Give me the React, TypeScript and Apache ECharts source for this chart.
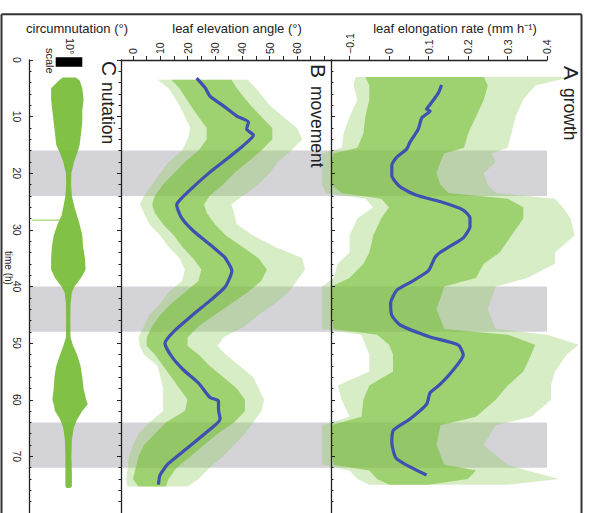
import React, { useEffect, useRef } from 'react';
import * as echarts from 'echarts';

// ---- data ----
const darkPeriods = [[16, 24], [40, 48], [64, 72]];
const timeLabels = [0, 10, 20, 30, 40, 50, 60, 70];
const elevationLabels = [0, 10, 20, 30, 40, 50, 60];
const elevationTicks = [0, 5, 10, 15, 20, 25, 30, 35, 40, 45, 50, 55, 60, 65, 70];
const elongationLabels = [-0.1, 0, 0.1, 0.2, 0.3, 0.4];
const elongationTicks = [-0.1, -0.05, 0, 0.05, 0.1, 0.15, 0.2, 0.25, 0.3, 0.35, 0.4];

// growth (A): [time, outerLow, coreLow, coreHigh, outerHigh]  (mm h-1)
const growthEnvelope = [
  [3.0, -0.085, -0.06, 0.24, 0.46],
  [4.5, -0.09, -0.05, 0.25, 0.37],
  [7, -0.08, -0.05, 0.24, 0.34],
  [10, -0.1, -0.06, 0.22, 0.32],
  [13, -0.115, -0.065, 0.2, 0.31],
  [15.5, -0.12, -0.08, 0.19, 0.3],
  [16.5, -0.17, -0.14, 0.14, 0.26],
  [18, -0.17, -0.147, 0.13, 0.27],
  [20, -0.17, -0.147, 0.12, 0.24],
  [22, -0.17, -0.147, 0.13, 0.25],
  [23.5, -0.16, -0.12, 0.15, 0.27],
  [24.5, -0.06, -0.02, 0.3, 0.42],
  [26, -0.04, 0.0, 0.34, 0.44],
  [28, -0.08, -0.02, 0.34, 0.46],
  [31, -0.1, -0.04, 0.31, 0.47],
  [34, -0.1, -0.05, 0.28, 0.42],
  [36, -0.13, -0.065, 0.24, 0.42],
  [38.5, -0.14, -0.1, 0.22, 0.35],
  [40, -0.17, -0.147, 0.14, 0.27],
  [44, -0.17, -0.147, 0.12, 0.25],
  [47.5, -0.17, -0.14, 0.14, 0.27],
  [48.5, -0.07, -0.03, 0.3, 0.4],
  [50.3, -0.06, 0.0, 0.37, 0.48],
  [52, -0.05, 0.01, 0.36, 0.45],
  [55, -0.05, 0.01, 0.34, 0.42],
  [57.5, -0.13, -0.05, 0.3, 0.41],
  [60, -0.12, -0.065, 0.27, 0.41],
  [63, -0.1, -0.07, 0.22, 0.36],
  [64.5, -0.17, -0.147, 0.13, 0.27],
  [68, -0.17, -0.147, 0.12, 0.24],
  [71.5, -0.17, -0.14, 0.14, 0.3],
  [72.5, -0.1, -0.05, 0.22, 0.35],
  [74, -0.08, -0.03, 0.2, 0.43],
  [75, -0.05, 0.0, 0.1, 0.3],
];
// growth mean: [rate, time]
const growthMean = [
  [0.133, 4.4], [0.125, 5.8], [0.104, 7.85], [0.095, 8.7], [0.104, 9.0], [0.083, 10.2],
  [0.074, 12.2], [0.053, 14.5], [0.045, 15.7], [0.019, 17.2], [0.007, 18.6], [0.007, 20.4],
  [0.028, 22.4], [0.07, 23.9], [0.129, 25.0], [0.188, 26.5], [0.205, 27.9], [0.205, 29.4],
  [0.188, 31.4], [0.154, 32.9], [0.129, 34.0], [0.116, 34.9], [0.1, 37.2], [0.053, 39.3],
  [0.019, 40.7], [0.004, 43.0], [0.007, 45.1], [0.028, 46.8], [0.104, 48.9], [0.175, 50.3],
  [0.188, 52.1], [0.163, 54.7], [0.129, 57.3], [0.104, 58.8], [0.095, 60.8], [0.053, 63.4],
  [0.011, 65.4], [0.007, 67.5], [0.019, 70.4], [0.095, 73.3],
];

// movement (B): [time, outerLow, coreLow, coreHigh, outerHigh]  (degrees)
const movementEnvelope = [
  [3.5, 9, 14, 36, 42],
  [5, 13, 17, 38, 45],
  [8, 17, 21, 43, 50],
  [10, 19, 24, 47, 55],
  [12, 21, 27, 51, 60],
  [14, 20, 27, 51, 62],
  [16, 18, 24, 47, 58],
  [18, 13, 19, 42, 53],
  [20, 10, 15, 37, 50],
  [22, 7, 11, 33, 46],
  [24, 4, 8, 28, 40],
  [25.5, 2.5, 7, 26, 36],
  [27, 4, 8, 27, 37],
  [29, 6, 11, 30, 38],
  [31, 10, 15, 34, 44],
  [33, 13, 18, 40, 52],
  [35, 17, 22, 46, 62],
  [37, 19, 25, 49, 63],
  [39, 18, 24, 47, 60],
  [41, 13, 19, 42, 57],
  [43, 10, 14, 36, 52],
  [45, 6, 10, 30, 46],
  [47, 4, 7, 24, 41],
  [49, 2, 5, 20, 33],
  [50.5, 2.5, 5, 20, 31],
  [52, 4, 8, 24, 34],
  [54, 9, 11, 28, 39],
  [56, 10, 14, 33, 44],
  [58, 11, 17, 38, 46],
  [60, 11, 20, 41, 48],
  [62, 11, 19, 41, 47],
  [64, 6, 12, 37, 44],
  [66, 2, 8, 31, 41],
  [68, 0, 4, 26, 37],
  [70, -1.5, 2, 21, 33],
  [72, -2, 1, 16, 28],
  [74, -2.5, 0, 13, 24],
  [75.3, -2, 2, 12, 20],
];
// movement mean: [angle, time]
const movementMean = [
  [23.3, 3.2], [26.4, 4.9], [28.2, 6.4], [33.1, 8.1], [38.0, 9.9], [42.3, 11.0],
  [41.6, 12.2], [44.1, 13.3], [40.4, 15.1], [34.3, 17.5], [28.2, 19.8], [22.1, 22.4],
  [17.2, 24.7], [16.0, 25.6], [17.8, 27.9], [22.1, 30.2], [28.2, 32.6], [33.1, 34.6],
  [33.7, 34.9], [36.2, 37.2], [33.7, 40.1], [28.2, 42.5], [20.9, 45.4], [14.8, 48.0],
  [11.7, 50.0], [14.2, 52.4], [18.4, 54.7], [23.9, 57.0], [28.2, 59.6], [31.3, 60.2],
  [31.3, 61.7], [31.9, 63.4], [27.0, 65.7], [19.7, 68.6], [12.9, 71.3], [9.9, 73.3],
  [9.3, 75.0],
];

// nutation (C): [time, low, high] (degrees around the trace centre)
const nutationEnvelope = [
  [3.1, -2, 3], [3.6, -3.5, 4.5], [5, -6.5, 5.5], [7, -6.5, 6], [9, -6, 5.5],
  [11, -5.5, 5.5], [13, -5, 5], [15, -4.5, 4.5], [16.5, -3, 3.5], [18, -1.8, 2.3],
  [20, -0.8, 1.3], [22, -0.7, 1.2], [24, -1, 1.5], [26, -1.8, 2.5], [27.5, -2.5, 3.5],
  [29, -4, 4.5], [31, -5.5, 5.5], [33, -6.2, 5.8], [35, -6.5, 6.5], [37, -6.5, 6.8],
  [38.5, -5, 5], [40, -2.5, 2.5], [41, -1.3, 1.5], [43, -0.8, 1], [46, -0.7, 0.9],
  [49, -0.8, 1], [50.5, -1.8, 2], [52, -3, 3.5], [54, -4.5, 4.8], [56, -5.2, 5.5],
  [58, -5.5, 6], [60, -6, 7], [60.8, -5.5, 7.6], [62, -5, 5.5], [63.5, -3, 3.5],
  [65, -1.8, 2.2], [67, -1.2, 1.5], [70, -1, 1.3], [73, -1, 1.5], [75.3, -1, 1.5],
  [75.6, -0.5, 0.8],
];
const nutationOutlier = [[-13.8, 28.3], [0, 28.3]];

// ---- styling ----
const FONT = 'Liberation Sans, Arial, Helvetica, sans-serif';
const INK = '#222';
const GREEN_OUTER = 'rgba(145,204,95,0.36)';
const GREEN_CORE = 'rgba(120,190,55,0.6)';
const GREEN_NUT = 'rgba(112,186,44,0.88)';
const BLUE = '#3f4fb2';
const GRAY = '#d4d4d8';

const xMins = [-15, -4.4, -0.147];

function bandSeries(rows: number[][], lo: number, hi: number, idx: number, color: string, z: number, clip: boolean) {
  return {
    type: 'custom',
    xAxisIndex: idx,
    yAxisIndex: idx,
    z,
    clip,
    silent: true,
    data: rows.map((r) => [r[lo], r[0], r[hi]]),
    encode: { x: [0, 2], y: 1 },
    renderItem: (params: any, api: any) => {
      if (params.dataIndex !== 0) return null;
      const pts: number[][] = [];
      for (let i = 0; i < rows.length; i++) pts.push(api.coord([rows[i][lo], rows[i][0]]));
      for (let i = rows.length - 1; i >= 0; i--) pts.push(api.coord([rows[i][hi], rows[i][0]]));
      return { type: 'polygon', shape: { points: pts }, style: { fill: color, stroke: 'none' } };
    },
  };
}

function darkSeries(idx: number) {
  return {
    type: 'custom',
    xAxisIndex: idx,
    yAxisIndex: idx,
    z: 1,
    silent: true,
    data: darkPeriods,
    encode: { y: [0, 1] },
    renderItem: (params: any, api: any) => {
      const cs = params.coordSys;
      const y0 = api.coord([xMins[idx], api.value(0)])[1];
      const y1 = api.coord([xMins[idx], api.value(1)])[1];
      return { type: 'rect', shape: { x: cs.x, y: y0, width: cs.width, height: y1 - y0 }, style: { fill: GRAY, stroke: 'none' } };
    },
  };
}

function timeAxis(idx: number, labels: boolean, inside: boolean) {
  return {
    type: 'value',
    gridIndex: idx,
    inverse: true,
    min: 0,
    max: 80,
    interval: 10,
    z: 10,
    axisLine: { show: true, onZero: false, lineStyle: { color: INK, width: 1.3 } },
    axisTick: { show: true, inside, length: 4, lineStyle: { color: INK, width: 1 } },
    minorTick: { show: true, splitNumber: 5, length: 2.5, lineStyle: { color: INK, width: 1 } },
    axisLabel: {
      show: labels,
      customValues: timeLabels,
      rotate: -90,
      margin: 7,
      fontSize: 10.5,
      color: INK,
      fontFamily: FONT,
    },
    splitLine: { show: false },
    minorSplitLine: { show: false },
  };
}

const fmtRate = (v: number) => (Math.abs(v) < 1e-9 ? '0' : v < 0 ? '\u2212' + Math.abs(v).toFixed(1) : v.toFixed(1));

const vText = (x: number, y: number, t: string, size: number) => ({
  type: 'text', z: 50, x, y, rotation: -Math.PI / 2, silent: true,
  style: {
    text: t, fontSize: size, fontFamily: FONT, fill: INK,
    align: 'left', verticalAlign: 'middle', textAlign: 'left', textVerticalAlign: 'middle',
  },
});

const option: any = {
  animation: false,
  backgroundColor: '#ffffff',
  textStyle: { fontFamily: FONT },
  grid: [
    { left: 29, top: 60, width: 92, height: 458 },
    { left: 121, top: 60, width: 210, height: 458 },
    { left: 331, top: 60, width: 216, height: 458 },
  ],
  xAxis: [
    { type: 'value', gridIndex: 0, min: -15, max: 20.4, show: false },
    {
      type: 'value', gridIndex: 1, position: 'top', min: -4.4, max: 72.5, z: 10,
      axisLine: { show: true, onZero: false, lineStyle: { color: INK, width: 1.3 } },
      axisTick: { show: true, customValues: elevationTicks, length: 4, lineStyle: { color: INK } },
      axisLabel: { customValues: elevationLabels, rotate: -90, margin: 6, fontSize: 10.5, color: INK, fontFamily: FONT },
      splitLine: { show: false },
    },
    {
      type: 'value', gridIndex: 2, position: 'top', min: -0.147, max: 0.4, z: 10,
      axisLine: { show: true, onZero: false, lineStyle: { color: INK, width: 1.3 } },
      axisTick: { show: true, customValues: elongationTicks, length: 4, lineStyle: { color: INK } },
      axisLabel: { customValues: elongationLabels, formatter: fmtRate, rotate: -90, margin: 6, fontSize: 10.5, color: INK, fontFamily: FONT },
      splitLine: { show: false },
    },
  ],
  yAxis: [timeAxis(0, true, true), timeAxis(1, false, false), timeAxis(2, false, true)],
  series: [
    darkSeries(0),
    darkSeries(1),
    darkSeries(2),
    bandSeries(nutationEnvelope, 1, 2, 0, GREEN_NUT, 3, true),
    {
      type: 'line', xAxisIndex: 0, yAxisIndex: 0, z: 3, data: nutationOutlier, symbol: 'none', silent: true,
      lineStyle: { color: 'rgba(130,196,70,0.6)', width: 1.5 },
    },
    bandSeries(movementEnvelope, 1, 4, 1, GREEN_OUTER, 2, true),
    bandSeries(movementEnvelope, 2, 3, 1, GREEN_CORE, 3, true),
    bandSeries(growthEnvelope, 1, 4, 2, GREEN_OUTER, 2, false),
    bandSeries(growthEnvelope, 2, 3, 2, GREEN_CORE, 3, false),
    {
      type: 'line', xAxisIndex: 1, yAxisIndex: 1, z: 5, data: movementMean, symbol: 'none', smooth: 0.2, silent: true,
      lineStyle: { color: BLUE, width: 3.2 },
    },
    {
      type: 'line', xAxisIndex: 2, yAxisIndex: 2, z: 5, data: growthMean, symbol: 'none', smooth: 0.2, silent: true,
      lineStyle: { color: BLUE, width: 3.2 },
    },
  ],
  graphic: [
    { type: 'line', z: 50, silent: true, shape: { x1: 1.5, y1: 14.3, x2: 581.5, y2: 14.3 }, style: { stroke: '#333', lineWidth: 2 } },
    { type: 'line', z: 50, silent: true, shape: { x1: 1.5, y1: 14.3, x2: 1.5, y2: 513 }, style: { stroke: '#333', lineWidth: 2 } },
    { type: 'line', z: 50, silent: true, shape: { x1: 581.5, y1: 14.3, x2: 581.5, y2: 513 }, style: { stroke: '#333', lineWidth: 2 } },
    {
      type: 'rect', z: 50, silent: true,
      shape: { x: 55.7, y: 57.3, width: 26.6, height: 9.4 },
      style: { fill: '#000' },
    },
    ...[
      { x: 77, y: 28, t: 'circumnutation (°)' },
      { x: 237, y: 28, t: 'leaf elevation angle (°)' },
      { x: 455, y: 28, t: 'leaf elongation rate (mm h\u207B\u00B9)' },
    ].map((d) => ({
      type: 'text', z: 50, x: d.x, y: d.y, silent: true,
      style: { text: d.t, fontSize: 13, fontFamily: FONT, fill: INK, align: 'center', verticalAlign: 'middle', textAlign: 'center', textVerticalAlign: 'middle' },
    })),
    vText(571, 66, 'A', 21),
    vText(570, 88, 'growth', 17.5),
    vText(318, 64, 'B', 21),
    vText(317, 86, 'movement', 17.5),
    vText(109, 61, 'C', 21),
    vText(108, 82, 'nutation', 17.5),
    vText(70, 38, '10°', 11),
    vText(49.5, 48, 'scale', 11),
    vText(8, 251, 'time (h)', 10),
  ],
};

export default function App() {
  const ref = useRef<HTMLDivElement>(null);
  useEffect(() => {
    document.body.style.margin = '0';
    const chart = echarts.init(ref.current as HTMLDivElement, null, { renderer: 'svg' });
    chart.setOption(option);
    return () => chart.dispose();
  }, []);
  return <div ref={ref} style={{ width: 589, height: 513, position: 'absolute', left: 0, top: 0, background: '#fff' }} />;
}
